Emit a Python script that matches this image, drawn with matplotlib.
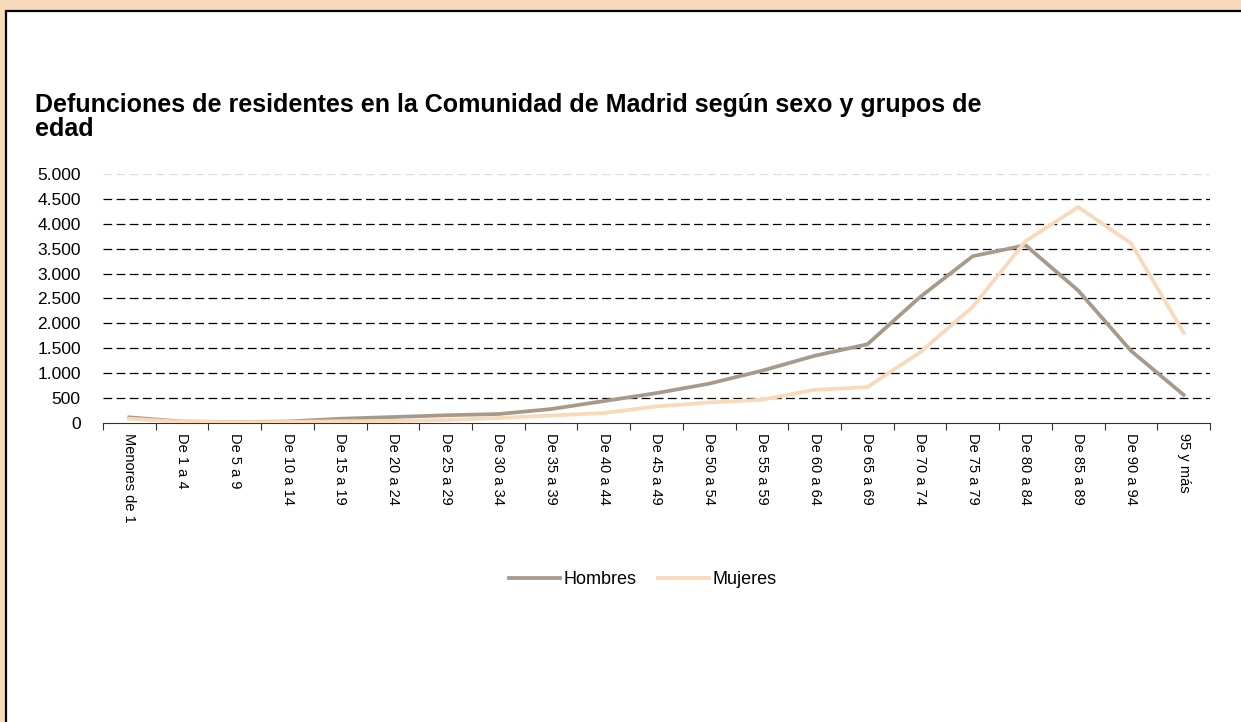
import matplotlib
matplotlib.use('Agg')
import matplotlib.pyplot as plt
import matplotlib.patches as patches
import matplotlib.ticker as ticker
import numpy as np

plt.rcParams['font.family'] = ['Liberation Sans', 'DejaVu Sans']

# -------------------------- data --------------------------
grupos = ['Menores de 1', 'De 1 a 4', 'De 5 a 9', 'De 10 a 14', 'De 15 a 19',
          'De 20 a 24', 'De 25 a 29', 'De 30 a 34', 'De 35 a 39', 'De 40 a 44',
          'De 45 a 49', 'De 50 a 54', 'De 55 a 59', 'De 60 a 64', 'De 65 a 69',
          'De 70 a 74', 'De 75 a 79', 'De 80 a 84', 'De 85 a 89', 'De 90 a 94',
          '95 y más']
hombres = [113, 30, 20, 30, 85, 120, 155, 180, 280, 440,
           600, 790, 1050, 1350, 1580, 2530, 3350, 3570, 2660, 1450, 565]
mujeres = [85, 25, 18, 20, 35, 40, 60, 100, 150, 200,
           333, 413, 467, 667, 720, 1420, 2335, 3650, 4335, 3610, 1815]
yticks = [0, 500, 1000, 1500, 2000, 2500, 3000, 3500, 4000, 4500, 5000]

c_hombres = '#A89A8A'
c_mujeres = '#F9D9BA'
peach = '#F8D9B9'

# -------------------------- figure --------------------------
fig = plt.figure(figsize=(12.41, 7.22), dpi=100)
fig.patch.set_facecolor(peach)
W, H = 1241, 722
panel = patches.Rectangle((6 / W, -0.05), 1.1, 1 - 11 / H + 0.05, transform=fig.transFigure,
                          facecolor='white', edgecolor='black', linewidth=1.6, zorder=-5)
fig.patches.append(panel)

ax = fig.add_axes([103 / W, 1 - 423 / H, (1210 - 103) / W, (423 - 174) / H])
ax.set_zorder(3)
ax.set_facecolor('none')

x = np.arange(len(grupos))
ax.plot(x, hombres, color=c_hombres, linewidth=2.7, label='Hombres', zorder=5)
ax.plot(x, mujeres, color=c_mujeres, linewidth=2.7, label='Mujeres', zorder=6)

ax.set_xlim(-0.5, len(grupos) - 0.5)
ax.set_ylim(0, 5000)
ax.set_yticks(yticks)
ax.yaxis.set_major_formatter(ticker.FuncFormatter(lambda v, p: f'{int(v):,}'.replace(',', '.')))
for v in yticks[1:]:
    ax.axhline(v, color='#DDDDDD' if v == 5000 else 'black', linestyle=(0, (7, 3.5)),
               linewidth=0.9, zorder=1)

ax.set_xticks(np.arange(len(grupos) + 1) - 0.5, minor=False)
ax.set_xticklabels([])
ax.set_xticks(x, minor=True)
ax.set_xticklabels(grupos, minor=True, rotation=-90, ha='center', va='top', fontsize=10.5)
ax.tick_params(axis='x', which='major', direction='out', length=5, width=0.8, color='#333333')
ax.tick_params(axis='x', which='minor', length=0, pad=7)
ax.tick_params(axis='y', length=0, labelsize=12.5, pad=16)

for s in ['top', 'right', 'left']:
    ax.spines[s].set_visible(False)
ax.spines['bottom'].set_color('#333333')
ax.spines['bottom'].set_linewidth(0.8)

fig.text(35 / W, 1 - 105 / H, 'Defunciones de residentes en la Comunidad de Madrid según sexo y grupos de',
         fontsize=18, fontweight='bold', ha='left', va='center')
fig.text(35 / W, 1 - 129 / H, 'edad', fontsize=18, fontweight='bold', ha='left', va='center')

fig.legend(loc='center', bbox_to_anchor=(643 / W, 1 - 580 / H), ncol=2, frameon=False,
           fontsize=13, handlelength=2.8, handletextpad=0.2, columnspacing=1.2)

plt.savefig('out.png', dpi=100, facecolor=fig.get_facecolor())
